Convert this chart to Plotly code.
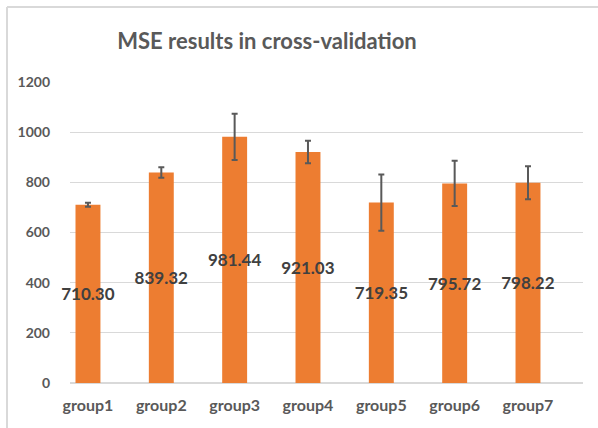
import plotly.graph_objects as go

# ── DATOS ─────────────────────────────────────────────────────────────────────
groups = ['group1', 'group2', 'group3', 'group4', 'group5', 'group6', 'group7']
mse = [710.30, 839.32, 981.44, 921.03, 719.35, 795.72, 798.22]
mse_err = [8, 21, 92, 45, 112, 90, 66]
y_ticks = [0, 200, 400, 600, 800, 1000, 1200]

BAR_COLOR = '#ED7D31'
GRAY_TXT = '#595959'
GRID = '#d9d9d9'
FONT = 'Lato'

fig = go.Figure(go.Bar(
    x=groups, y=mse,
    marker=dict(color=BAR_COLOR, line=dict(width=0)),
    width=0.34,
    error_y=dict(type='data', array=mse_err, visible=True,
                 color=GRAY_TXT, thickness=2, width=3),
    text=[f'{v:.2f}' for v in mse],
    textposition='inside', insidetextanchor='middle',
    constraintext='none', textangle=0, cliponaxis=False,
    textfont=dict(family=FONT, size=17, color='#404040', weight='bold'),
))

fig.update_layout(
    width=598, height=428,
    margin=dict(l=70, r=15, t=82, b=45),
    paper_bgcolor='white', plot_bgcolor='white',
    showlegend=False,
    title=dict(text='MSE results in cross-validation',
               x=267 / 598, xref='container', xanchor='center',
               y=1 - 41 / 428, yref='container', yanchor='middle',
               font=dict(family=FONT, size=22, color=GRAY_TXT, weight='bold')),
    shapes=[dict(type='line', xref='paper', yref='paper',
                 x0=-63 / 513, x1=1.1, y0=1 + 75 / 301, y1=1 + 75 / 301,
                 line=dict(color=GRID, width=2)),
            dict(type='line', xref='paper', yref='paper',
                 x0=-63 / 513, x1=-63 / 513, y0=1 + 75 / 301, y1=-0.2,
                 line=dict(color=GRID, width=2))],
)

fig.update_xaxes(range=[-0.245, 6.75], showgrid=False, showline=False,
                 ticks='', ticklabelstandoff=11,
                 tickfont=dict(family=FONT, size=16, color=GRAY_TXT, weight='bold'))
fig.update_yaxes(range=[0, 1200], tickvals=y_ticks, showgrid=True,
                 gridcolor=GRID, gridwidth=1, zeroline=True,
                 zerolinecolor=GRID, zerolinewidth=2,
                 ticks='', ticklabelstandoff=19,
                 tickfont=dict(family=FONT, size=14, color=GRAY_TXT, weight='bold'))

# quitar el margen por defecto del <body> para que la figura quede en (0,0)
fig.write_html('out.html', config={'displayModeBar': False},
               post_script="document.body.style.margin='0';")
